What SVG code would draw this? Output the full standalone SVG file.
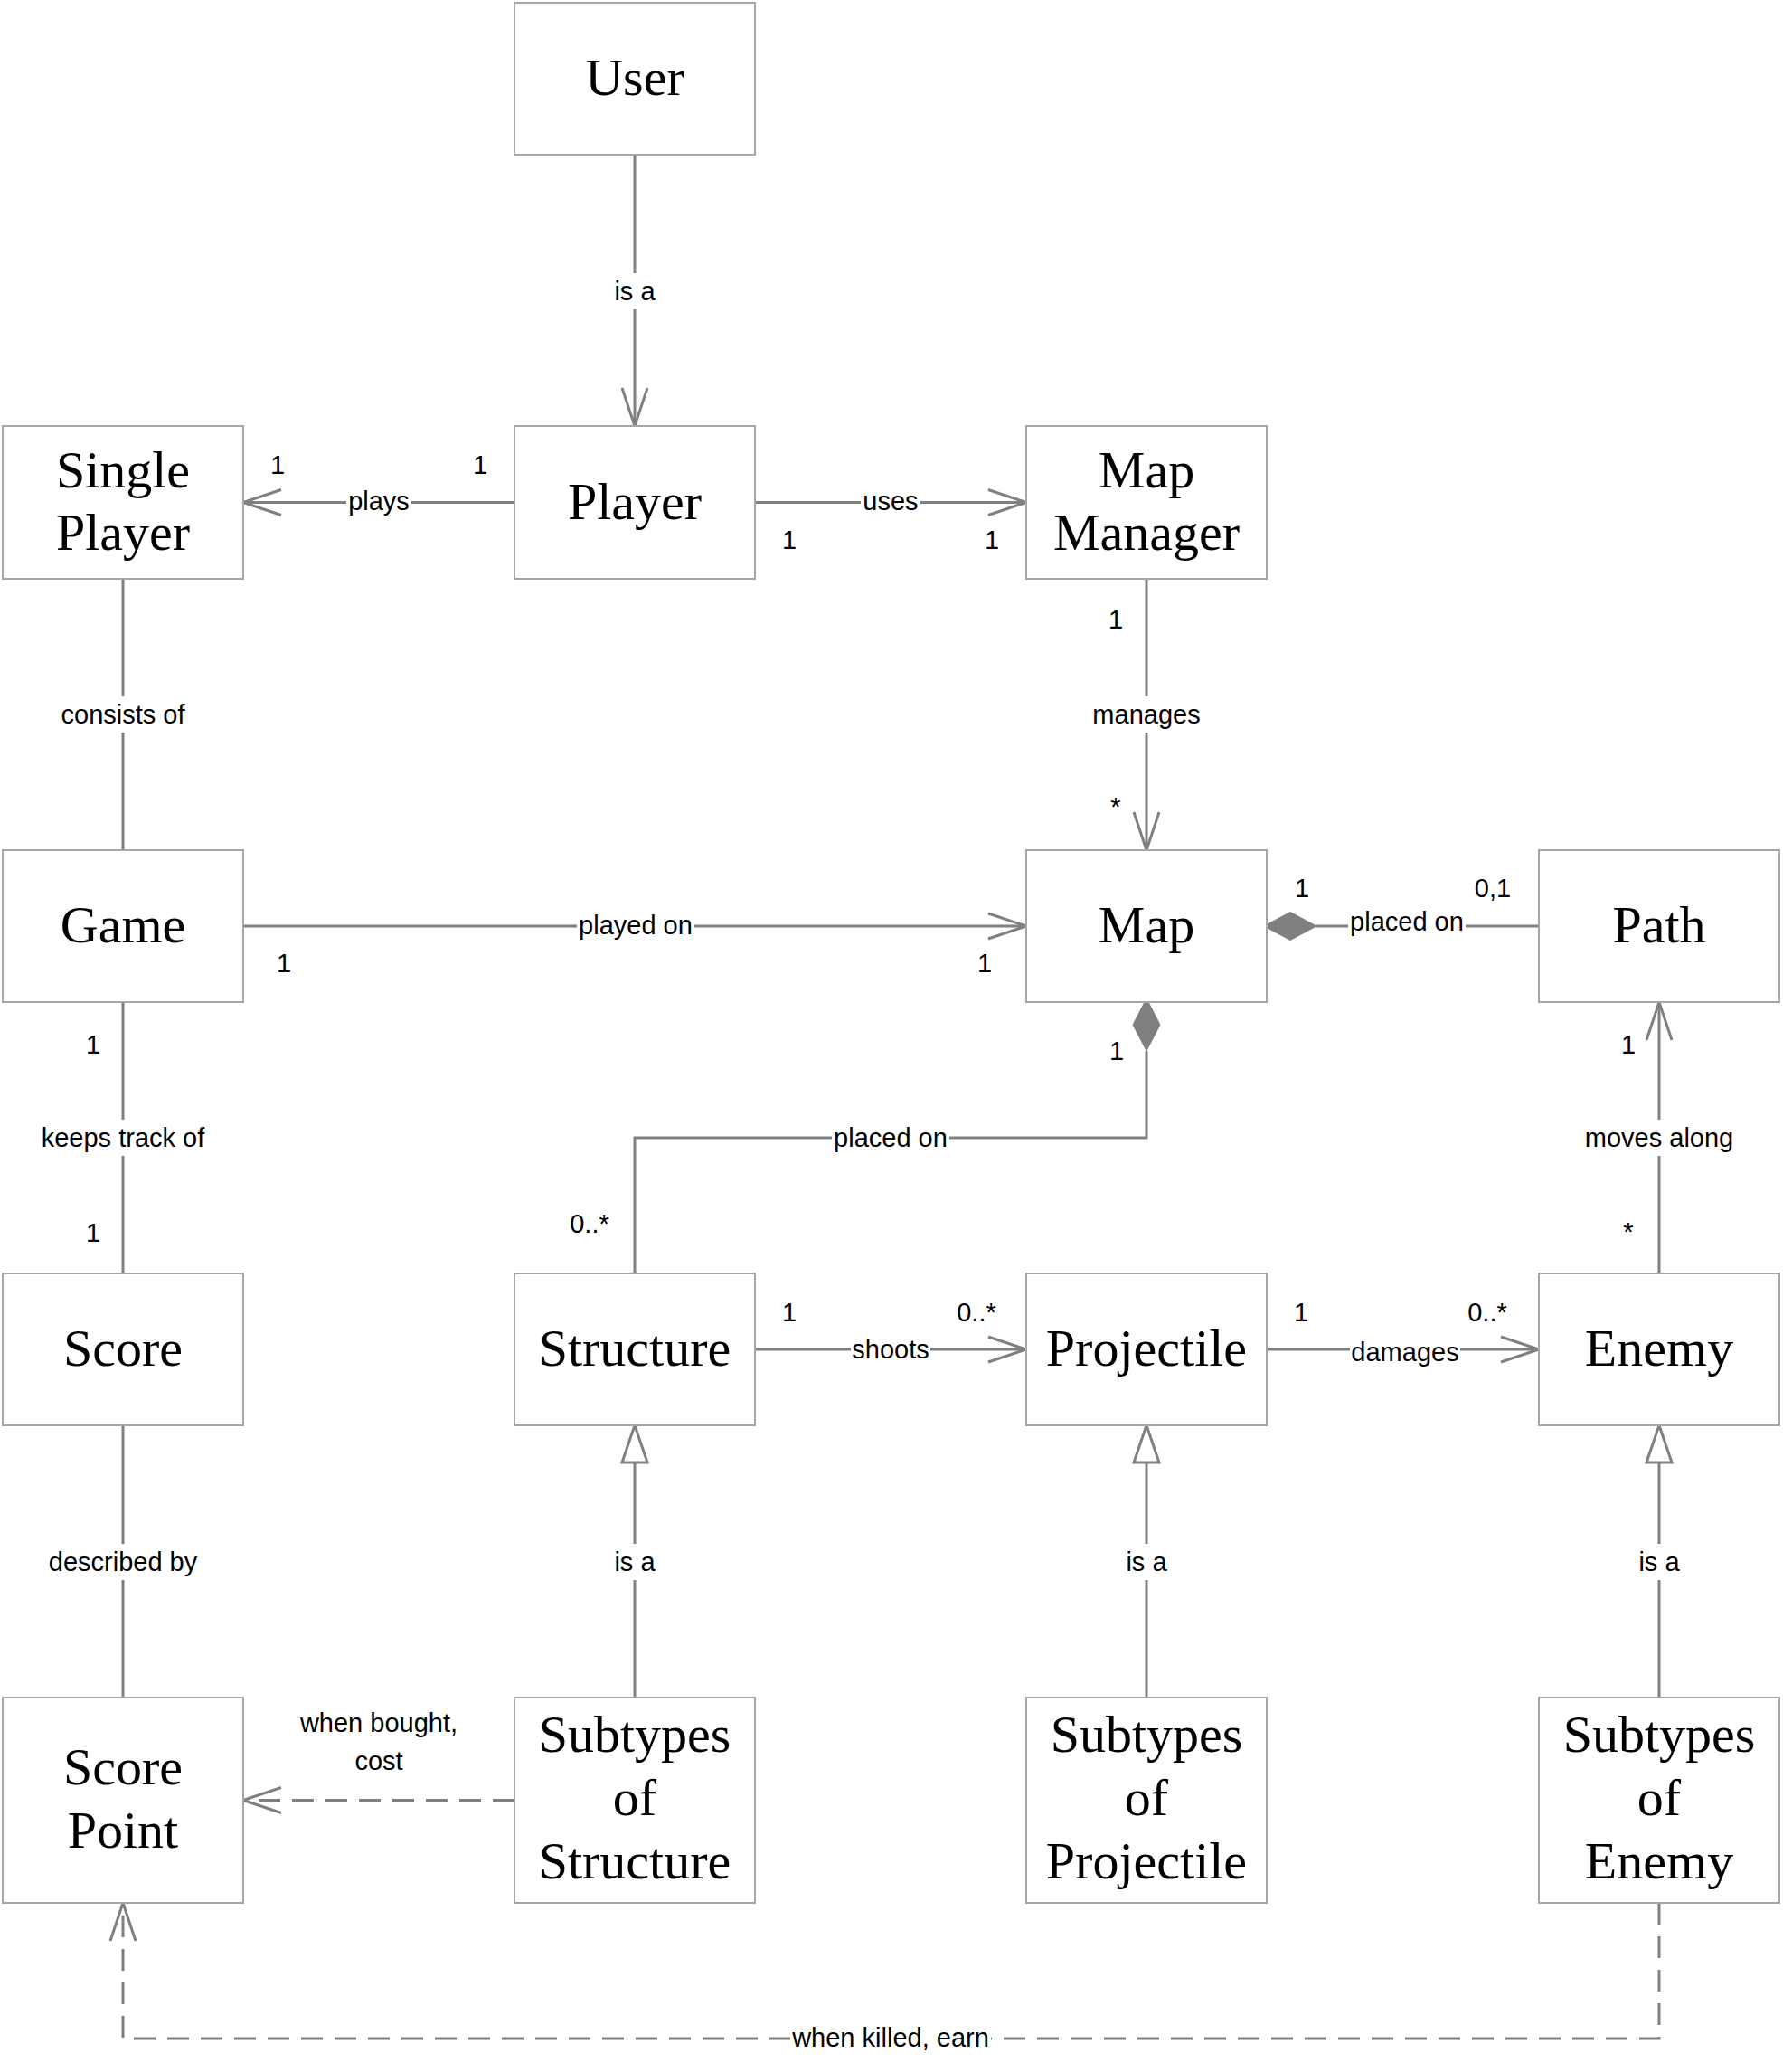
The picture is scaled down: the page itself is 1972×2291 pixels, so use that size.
<svg xmlns="http://www.w3.org/2000/svg" width="1972" height="2291" viewBox="0 0 1972 2291">
<style>
.node rect{fill:#fff;stroke:#a6a6a6;stroke-width:2}
.node text{font-family:"Liberation Serif","Times New Roman",serif;font-size:58px;fill:#000;text-anchor:middle}
.c{fill:none;stroke:#808080;stroke-width:3}
.d{stroke-dasharray:24 13}
.bg{fill:#fff;stroke:none}
.lbl,.m{font-family:"Liberation Sans",Arial,sans-serif;font-size:29px;fill:#000;text-anchor:middle}
.dia{fill:#808080;stroke:#808080;stroke-width:1}
</style>
<defs>
<marker id="open" markerUnits="userSpaceOnUse" markerWidth="50" markerHeight="36" viewBox="-46 -18 50 36" refX="0" refY="0" orient="auto">
<path d="M-42,-14 L0,0 L-42,14" fill="none" stroke="#808080" stroke-width="3"/>
</marker>
<marker id="tri" markerUnits="userSpaceOnUse" markerWidth="50" markerHeight="36" viewBox="-46 -18 50 36" refX="0" refY="0" orient="auto">
<path d="M-41,-14 L0,0 L-41,14 Z" fill="#fff" stroke="#808080" stroke-width="3"/>
</marker>
</defs>
<rect width="1972" height="2291" fill="#fff"/>

<g id="connectors">
<line class="c" x1="702" y1="171" x2="702" y2="471" marker-end="url(#open)"/>
<line class="c" x1="569" y1="555.5" x2="269" y2="555.5" marker-end="url(#open)"/>
<line class="c" x1="835" y1="555.5" x2="1135" y2="555.5" marker-end="url(#open)"/>
<line class="c" x1="136" y1="640" x2="136" y2="940"/>
<line class="c" x1="1268" y1="640" x2="1268" y2="940" marker-end="url(#open)"/>
<line class="c" x1="269" y1="1024" x2="1135" y2="1024" marker-end="url(#open)"/>
<line class="c" x1="1456" y1="1024" x2="1702" y2="1024"/>
<polygon class="dia" points="1398,1024 1427,1008.5 1456,1024 1427,1039.5"/>
<line class="c" x1="136" y1="1108" x2="136" y2="1408"/>
<polyline class="c" points="702,1408 702,1258 1268,1258 1268,1162"/>
<polygon class="dia" points="1268,1104 1283,1133 1268,1162 1253,1133"/>
<line class="c" x1="835" y1="1492" x2="1135" y2="1492" marker-end="url(#open)"/>
<line class="c" x1="1401" y1="1492" x2="1702" y2="1492" marker-end="url(#open)"/>
<line class="c" x1="1835" y1="1408" x2="1835" y2="1108" marker-end="url(#open)"/>
<line class="c" x1="136" y1="1576" x2="136" y2="1877"/>
<line class="c" x1="702" y1="1877" x2="702" y2="1576" marker-end="url(#tri)"/>
<line class="c" x1="1268" y1="1877" x2="1268" y2="1576" marker-end="url(#tri)"/>
<line class="c" x1="1835" y1="1877" x2="1835" y2="1576" marker-end="url(#tri)"/>
<line class="c d" x1="569" y1="1990.5" x2="269" y2="1990.5" marker-end="url(#open)"/>
<polyline class="c d" points="1835,2104 1835,2254 136,2254 136,2104" marker-end="url(#open)"/>

<rect class="bg" x="677" y="302" width="50" height="40"/>
<rect class="bg" x="383" y="545" width="72" height="22"/>
<rect class="bg" x="952" y="545" width="66" height="22"/>
<rect class="bg" x="65" y="770" width="142" height="40"/>
<rect class="bg" x="1206" y="770" width="124" height="40"/>
<rect class="bg" x="638" y="1014" width="130" height="22"/>
<rect class="bg" x="1491" y="1014" width="130" height="22"/>
<rect class="bg" x="43" y="1238" width="186" height="40"/>
<rect class="bg" x="920" y="1248" width="130" height="22"/>
<rect class="bg" x="1751" y="1238" width="168" height="40"/>
<rect class="bg" x="941" y="1482" width="88" height="22"/>
<rect class="bg" x="1493" y="1482" width="122" height="22"/>
<rect class="bg" x="52" y="1707" width="168" height="40"/>
<rect class="bg" x="677" y="1707" width="50" height="40"/>
<rect class="bg" x="1243" y="1707" width="50" height="40"/>
<rect class="bg" x="1810" y="1707" width="50" height="40"/>
<rect class="bg" x="874" y="2244" width="222" height="22"/>

<text class="lbl" x="702" y="332">is a</text>
<text class="lbl" x="419" y="564">plays</text>
<text class="lbl" x="985" y="564">uses</text>
<text class="lbl" x="136" y="800">consists of</text>
<text class="lbl" x="1268" y="800">manages</text>
<text class="lbl" x="703" y="1033">played on</text>
<text class="lbl" x="1556" y="1029">placed on</text>
<text class="lbl" x="136" y="1268">keeps track of</text>
<text class="lbl" x="985" y="1268">placed on</text>
<text class="lbl" x="1835" y="1268">moves along</text>
<text class="lbl" x="985" y="1502">shoots</text>
<text class="lbl" x="1554" y="1505">damages</text>
<text class="lbl" x="136" y="1737">described by</text>
<text class="lbl" x="702" y="1737">is a</text>
<text class="lbl" x="1268" y="1737">is a</text>
<text class="lbl" x="1835" y="1737">is a</text>
<text class="lbl" x="419" y="1915">when bought,</text>
<text class="lbl" x="419" y="1957">cost</text>
<text class="lbl" x="985" y="2263">when killed, earn</text>

<text class="m" x="307" y="524">1</text>
<text class="m" x="531" y="524">1</text>
<text class="m" x="873" y="607">1</text>
<text class="m" x="1097" y="607">1</text>
<text class="m" x="1234" y="695">1</text>
<text class="m" x="1234" y="902">*</text>
<text class="m" x="314" y="1075">1</text>
<text class="m" x="1089" y="1075">1</text>
<text class="m" x="1440" y="992">1</text>
<text class="m" x="1651" y="992">0,1</text>
<text class="m" x="103" y="1165">1</text>
<text class="m" x="103" y="1373">1</text>
<text class="m" x="1235" y="1172">1</text>
<text class="m" x="652" y="1363">0..*</text>
<text class="m" x="873" y="1461">1</text>
<text class="m" x="1080" y="1461">0..*</text>
<text class="m" x="1439" y="1461">1</text>
<text class="m" x="1645" y="1461">0..*</text>
<text class="m" x="1801" y="1165">1</text>
<text class="m" x="1801" y="1372">*</text>
</g>

<g id="user" class="node"><rect x="569" y="3" width="266" height="168"/><text x="702" y="105">User</text></g>
<g id="single-player" class="node"><rect x="3" y="471" width="266" height="169"/><text x="136" y="539">Single</text><text x="136" y="608">Player</text></g>
<g id="player" class="node"><rect x="569" y="471" width="266" height="169"/><text x="702" y="574">Player</text></g>
<g id="map-manager" class="node"><rect x="1135" y="471" width="266" height="169"/><text x="1268" y="539">Map</text><text x="1268" y="608">Manager</text></g>
<g id="game" class="node"><rect x="3" y="940" width="266" height="168"/><text x="136" y="1042">Game</text></g>
<g id="map" class="node"><rect x="1135" y="940" width="266" height="168"/><text x="1268" y="1042">Map</text></g>
<g id="path" class="node"><rect x="1702" y="940" width="266" height="168"/><text x="1835" y="1042">Path</text></g>
<g id="score" class="node"><rect x="3" y="1408" width="266" height="168"/><text x="136" y="1510">Score</text></g>
<g id="structure" class="node"><rect x="569" y="1408" width="266" height="168"/><text x="702" y="1510">Structure</text></g>
<g id="projectile" class="node"><rect x="1135" y="1408" width="266" height="168"/><text x="1268" y="1510">Projectile</text></g>
<g id="enemy" class="node"><rect x="1702" y="1408" width="266" height="168"/><text x="1835" y="1510">Enemy</text></g>
<g id="score-point" class="node"><rect x="3" y="1877" width="266" height="227"/><text x="136" y="1973">Score</text><text x="136" y="2043">Point</text></g>
<g id="subtypes-structure" class="node"><rect x="569" y="1877" width="266" height="227"/><text x="702" y="1937">Subtypes</text><text x="702" y="2007">of</text><text x="702" y="2077">Structure</text></g>
<g id="subtypes-projectile" class="node"><rect x="1135" y="1877" width="266" height="227"/><text x="1268" y="1937">Subtypes</text><text x="1268" y="2007">of</text><text x="1268" y="2077">Projectile</text></g>
<g id="subtypes-enemy" class="node"><rect x="1702" y="1877" width="266" height="227"/><text x="1835" y="1937">Subtypes</text><text x="1835" y="2007">of</text><text x="1835" y="2077">Enemy</text></g>
</svg>
